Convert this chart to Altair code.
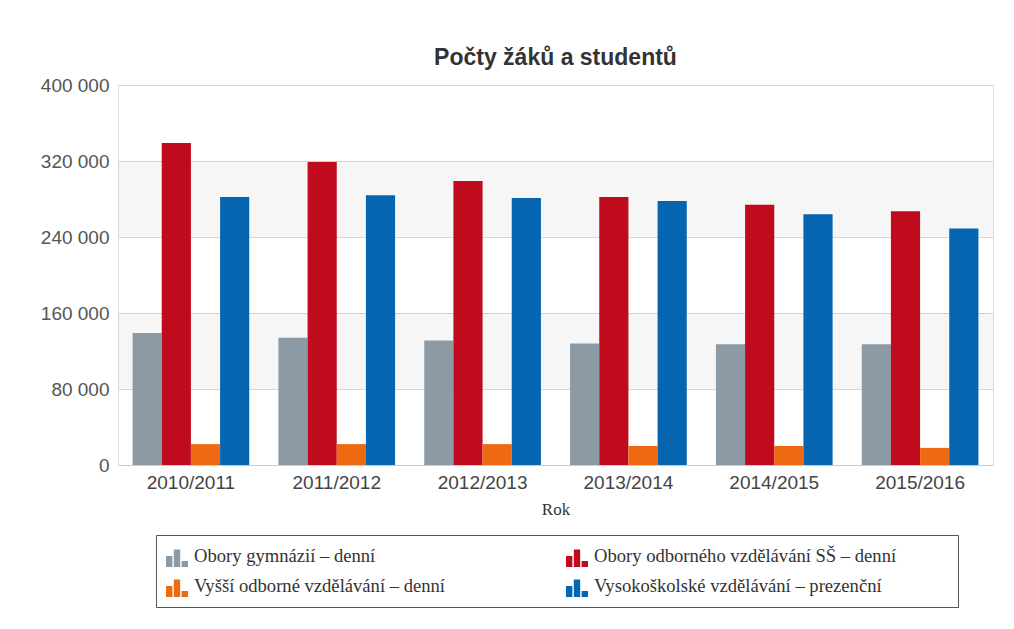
import altair as alt
import pandas as pd

years = ["2010/2011", "2011/2012", "2012/2013", "2013/2014", "2014/2015", "2015/2016"]
series = [
    "Obory gymnázií – denní",
    "Obory odborného vzdělávání SŠ – denní",
    "Vyšší odborné vzdělávání – denní",
    "Vysokoškolské vzdělávání – prezenční",
]
colors = ["#8C9AA5", "#C00A1E", "#EE6A12", "#0565B0"]
# legend lays entries out column by column, so list them in that order
legend_order = [series[0], series[2], series[1], series[3]]
legend_colors = [colors[0], colors[2], colors[1], colors[3]]

gymnazia = [139000, 134000, 131000, 128000, 127000, 127000]
odborne_ss = [339000, 319000, 299000, 282000, 274000, 267000]
vyssi_odborne = [22000, 22000, 22000, 20000, 20000, 18000]
vysokoskolske = [282000, 284000, 281000, 278000, 264000, 249000]

y_ticks = [0, 80000, 160000, 240000, 320000, 400000]
band_start = [80000, 240000]
band_end = [160000, 320000]

values_by_series = [gymnazia, odborne_ss, vyssi_odborne, vysokoskolske]
rows = []
for s, vals in zip(series, values_by_series):
    for yr, v in zip(years, vals):
        rows.append({"Rok": yr, "Řada": s, "Počet": v})
df = pd.DataFrame(rows)
bands_df = pd.DataFrame({"start": band_start, "end": band_end})

icon = "M-1,0H-0.42V1H-1Z M-0.29,-0.6H0.29V1H-0.29Z M0.42,0.45H1V1H0.42Z"

y_axis = alt.Axis(
    title=None,
    values=y_ticks,
    labelExpr="replace(format(datum.value, ','), ',', ' ')",
    ticks=False,
    domain=False,
    labelPadding=9,
    labelFont="Liberation Sans",
    labelFontSize=19,
    labelColor="#555555",
    gridColor="#d6d6d6",
)
y_scale = alt.Scale(domain=[0, 400000])

bands = alt.Chart(bands_df).mark_rect(color="#000000", opacity=0.035).encode(
    y=alt.Y("start:Q", axis=y_axis, scale=y_scale, title=None),
    y2="end:Q",
)

bars = alt.Chart(df).mark_bar().encode(
    x=alt.X(
        "Rok:N",
        sort=years,
        scale=alt.Scale(paddingInner=0.2, paddingOuter=0.1),
        axis=alt.Axis(
            title="Rok",
            labelAngle=0,
            ticks=False,
            domainColor="#cccccc",
            labelFont="Liberation Sans",
            labelFontSize=19,
            labelColor="#444444",
            labelPadding=8,
            titleFont="Liberation Serif",
            titleFontSize=17,
            titleFontWeight="normal",
            titleColor="#333333",
            titlePadding=9,
        ),
    ),
    xOffset=alt.XOffset("Řada:N", sort=series, scale=alt.Scale(paddingInner=0)),
    y=alt.Y("Počet:Q", scale=y_scale, axis=y_axis, title=None),
    color=alt.Color(
        "Řada:N",
        scale=alt.Scale(domain=legend_order, range=legend_colors),
        legend=alt.Legend(
            orient="none",
            legendX=38,
            legendY=450,
            columns=2,
            title="\u00a0",
            titleOrient="right",
            titlePadding=52,
            strokeColor="#555555",
            fillColor="white",
            padding=10,
            symbolType=icon,
            symbolSize=484,
            symbolStrokeWidth=0,
            labelFont="Liberation Serif",
            labelFontSize=18.6,
            labelColor="#333333",
            labelLimit=500,
            labelOffset=6,
            columnPadding=121,
            rowPadding=8,
        ),
    ),
)

chart = (
    alt.layer(bands, bars)
    .properties(
        width=875,
        height=380,
        title=alt.TitleParams(
            "Počty žáků a studentů",
            font="Liberation Sans",
            fontSize=23,
            fontWeight="bold",
            color="#333333",
            offset=6,
        ),
        padding={"left": 110, "top": 77, "right": 13, "bottom": 150},
        autosize=alt.AutoSizeParams(type="none"),
    )
    .configure_view(stroke="#d9d9d9")
    .configure(background="white")
)

chart.save("out.html", embed_options={"renderer": "svg", "actions": False})
